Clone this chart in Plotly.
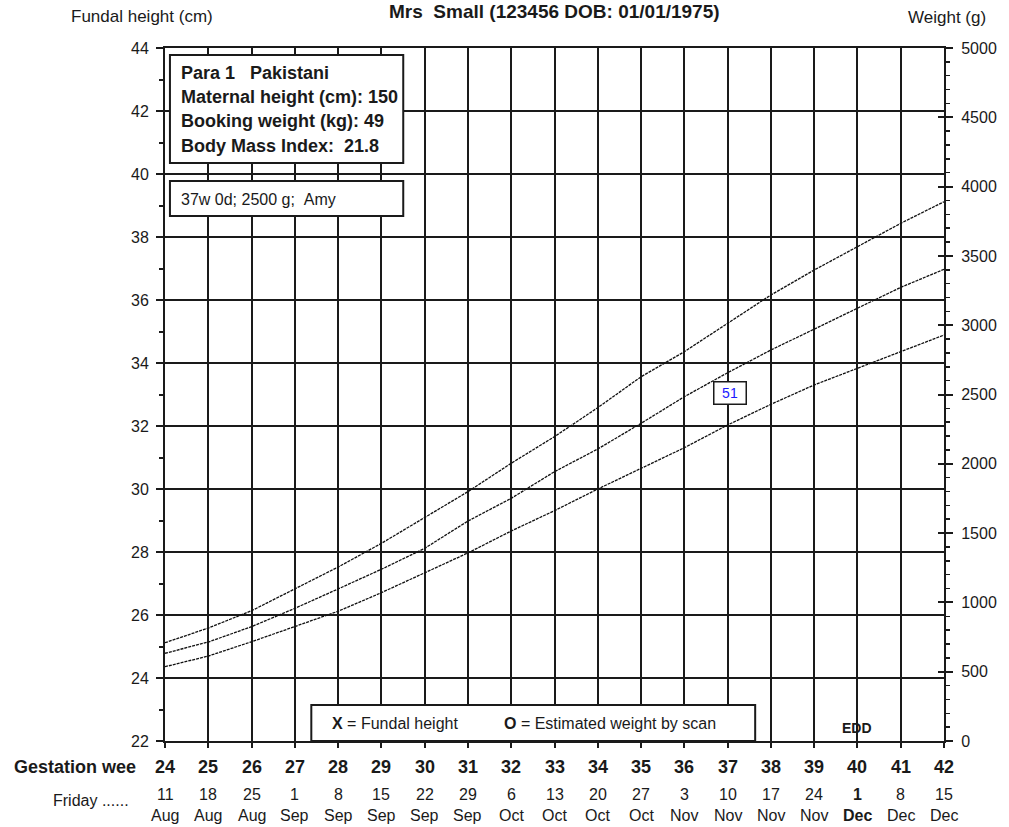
import plotly.graph_objects as go

# ---------------- data ----------------
weeks = list(range(24, 43))
day_labels = ["11", "18", "25", "1", "8", "15", "22", "29", "6", "13",
              "20", "27", "3", "10", "17", "24", "1", "8", "15"]
month_labels = ["Aug", "Aug", "Aug", "Sep", "Sep", "Sep", "Sep", "Sep", "Oct", "Oct",
                "Oct", "Oct", "Nov", "Nov", "Nov", "Nov", "Dec", "Dec", "Dec"]
edd_week = 40

centile_90 = [709, 815, 940, 1095, 1255, 1426, 1611, 1799, 2004, 2196,
              2405, 2628, 2809, 3014, 3218, 3398, 3566, 3735, 3891]
centile_50 = [633, 714, 825, 957, 1097, 1239, 1390, 1587, 1751, 1943,
              2107, 2292, 2484, 2657, 2821, 2970, 3122, 3273, 3403]
centile_10 = [536, 613, 716, 825, 936, 1070, 1214, 1357, 1515, 1662,
              1818, 1968, 2116, 2280, 2429, 2569, 2689, 2809, 2929]

scan_week = [37]
scan_weight = [2500]
scan_label = ["51"]

fundal_weeks = []
fundal_cm = []

fh_ticks = list(range(22, 45, 2))
wt_ticks = list(range(0, 5001, 500))

title_text = "Mrs  Small (123456 DOB: 01/01/1975)"
info_lines = ["Para 1   Pakistani", "Maternal height (cm): 150",
              "Booking weight (kg): 49", "Body Mass Index:  21.8"]
scan_note = "37w 0d; 2500 g;  Amy"

# ---------------- layout helpers ----------------
FONT = "Liberation Sans, Arial, sans-serif"
INK = "#1a1a1a"
W, H = 1009, 827
L, R, T, B = 165, 953, 48, 741


def px(xp):
    return (xp - L) / (R - L)


def py(yp):
    return (B - yp) / (B - T)


def nb(s):
    return s.replace(" ", "\u00a0")


fig = go.Figure()

fig.add_trace(go.Scatter(x=fundal_weeks, y=fundal_cm, mode="markers",
                         marker=dict(symbol="x", color=INK), name="Fundal height",
                         xaxis="x", yaxis="y", showlegend=False))

for name, vals in [("90th centile", centile_90), ("50th centile", centile_50),
                   ("10th centile", centile_10)]:
    fig.add_trace(go.Scatter(x=weeks, y=vals, mode="lines", name=name,
                             line=dict(color="#111111", width=1.3, dash="3px,1px"),
                             xaxis="x", yaxis="y2", showlegend=False, hoverinfo="skip"))

fig.add_trace(go.Scatter(x=scan_week, y=scan_weight, mode="markers",
                         marker=dict(size=1, color="rgba(0,0,0,0)"),
                         xaxis="x", yaxis="y3", showlegend=False, hoverinfo="skip"))

shapes = []
annotations = []

# title and axis titles
annotations.append(dict(xref="paper", yref="paper", x=px(559), y=py(12), text="<b>" + nb(title_text) + "</b>",
                        showarrow=False, xanchor="center", yanchor="middle",
                        font=dict(family=FONT, size=19, color=INK)))
annotations.append(dict(xref="paper", yref="paper", x=px(68), y=py(16), text="Fundal height (cm)",
                        showarrow=False, xanchor="left", yanchor="middle",
                        font=dict(family=FONT, size=17, color=INK)))
annotations.append(dict(xref="paper", yref="paper", x=px(998), y=py(17), text="Weight (g)",
                        showarrow=False, xanchor="right", yanchor="middle",
                        font=dict(family=FONT, size=17, color=INK)))

# x-axis labels
annotations.append(dict(xref="paper", yref="paper", x=px(10), y=py(767), text="<b>Gestation wee</b>",
                        showarrow=False, xanchor="left", yanchor="middle",
                        font=dict(family=FONT, size=18, color=INK)))
annotations.append(dict(xref="paper", yref="paper", x=px(50), y=py(800), text="Friday ......",
                        showarrow=False, xanchor="left", yanchor="middle",
                        font=dict(family=FONT, size=16, color=INK)))
for w, d, m in zip(weeks, day_labels, month_labels):
    annotations.append(dict(xref="x", yref="paper", x=w, y=0, yshift=-26, text="<b>%d</b>" % w,
                            showarrow=False, xanchor="center", yanchor="middle",
                            font=dict(family=FONT, size=18, color=INK)))
    bold = (w == edd_week)
    annotations.append(dict(xref="x", yref="paper", x=w, y=0, yshift=-53,
                            text=("<b>%s</b>" % d) if bold else d,
                            showarrow=False, xanchor="center", yanchor="middle",
                            font=dict(family=FONT, size=16, color=INK)))
    annotations.append(dict(xref="x", yref="paper", x=w, y=0, yshift=-74,
                            text=("<b>%s</b>" % m) if bold else m,
                            showarrow=False, xanchor="center", yanchor="middle",
                            font=dict(family=FONT, size=16, color=INK)))

# EDD
annotations.append(dict(xref="x", yref="paper", x=edd_week, y=py(728), text="<b>EDD</b>",
                        showarrow=False, xanchor="center", yanchor="middle",
                        font=dict(family=FONT, size=14, color=INK)))

# info box
shapes.append(dict(type="rect", xref="paper", yref="paper", x0=px(170), x1=px(406), y0=py(55), y1=py(163),
                   line=dict(color=INK, width=2), fillcolor="white", layer="above"))
for i, line in enumerate(info_lines):
    annotations.append(dict(xref="paper", yref="paper", x=px(179), y=py(73 + 24.2 * i),
                            text="<b>" + nb(line) + "</b>", showarrow=False,
                            xanchor="left", yanchor="middle",
                            font=dict(family=FONT, size=18, color=INK)))

# scan note box
shapes.append(dict(type="rect", xref="paper", yref="paper", x0=px(170), x1=px(406), y0=py(181), y1=py(216),
                   line=dict(color=INK, width=2), fillcolor="white", layer="above"))
annotations.append(dict(xref="paper", yref="paper", x=px(179), y=py(199), text=nb(scan_note),
                        showarrow=False, xanchor="left", yanchor="middle",
                        font=dict(family=FONT, size=16, color=INK)))

# legend box at bottom
shapes.append(dict(type="rect", xref="paper", yref="paper", x0=px(313), x1=px(762), y0=py(741), y1=py(705),
                   line=dict(color=INK, width=2), fillcolor="white", layer="above"))
annotations.append(dict(xref="paper", yref="paper", x=px(332), y=py(723), text="<b>X</b> = Fundal height",
                        showarrow=False, xanchor="left", yanchor="middle",
                        font=dict(family=FONT, size=16, color=INK)))
annotations.append(dict(xref="paper", yref="paper", x=px(506), y=py(723),
                        text="<b>O</b> = Estimated weight by scan",
                        showarrow=False, xanchor="left", yanchor="middle",
                        font=dict(family=FONT, size=16, color=INK)))

# scan centile label box
for sw, swt, sl in zip(scan_week, scan_weight, scan_label):
    annotations.append(dict(xref="x", yref="y2", x=sw, y=swt, text=sl, showarrow=False,
                            xanchor="center", yanchor="middle", width=29, height=19,
                            borderpad=1, borderwidth=1.5, bordercolor=INK, bgcolor="white",
                            xshift=2, yshift=2,
                            font=dict(family=FONT, size=14, color="#1a1aff")))

axis_common = dict(linecolor=INK, linewidth=2, tickcolor=INK, tickwidth=2, zeroline=False,
                   fixedrange=True)

fig.update_layout(
    width=W, height=H,
    margin=dict(l=L, r=W - R, t=T, b=H - B, pad=0),
    paper_bgcolor="white", plot_bgcolor="white",
    showlegend=False,
    font=dict(family=FONT, size=16, color=INK),
    xaxis=dict(range=[24, 42], tickmode="array", tickvals=weeks, showticklabels=False,
               ticks="outside", ticklen=5, showgrid=True, gridcolor=INK, gridwidth=2,
               showline=True, mirror=True, **axis_common),
    yaxis=dict(range=[22, 44], tickmode="array", tickvals=fh_ticks, ticks="outside", ticklen=7,
               minor=dict(dtick=1, tick0=22, ticks="outside", ticklen=4, tickwidth=2, tickcolor=INK,
                          showgrid=False),
               showgrid=True, gridcolor=INK, gridwidth=2, showline=True, mirror=True,
               tickfont=dict(family=FONT, size=16, color=INK), ticklabelstandoff=4,
               **axis_common),
    yaxis2=dict(range=[0, 5000], overlaying="y", side="right", anchor="x", tickmode="array",
                tickvals=wt_ticks, ticks="outside", ticklen=7,
                minor=dict(dtick=100, tick0=0, ticks="outside", ticklen=4, tickwidth=1.5, tickcolor=INK,
                           showgrid=False),
                showgrid=False, showline=True,
                tickfont=dict(family=FONT, size=16, color=INK), ticklabelstandoff=5,
                **axis_common),
    yaxis3=dict(range=[0, 5000], overlaying="y", side="right", anchor="x", tickmode="array",
                tickvals=wt_ticks, ticks="inside", ticklen=6, showticklabels=False,
                showgrid=False, showline=False, **axis_common),
    shapes=shapes,
    annotations=annotations,
)

fig.write_html("out.html", config={"displayModeBar": False, "staticPlot": True},
               post_script="document.body.style.margin='0px';document.body.style.overflow='hidden';")
